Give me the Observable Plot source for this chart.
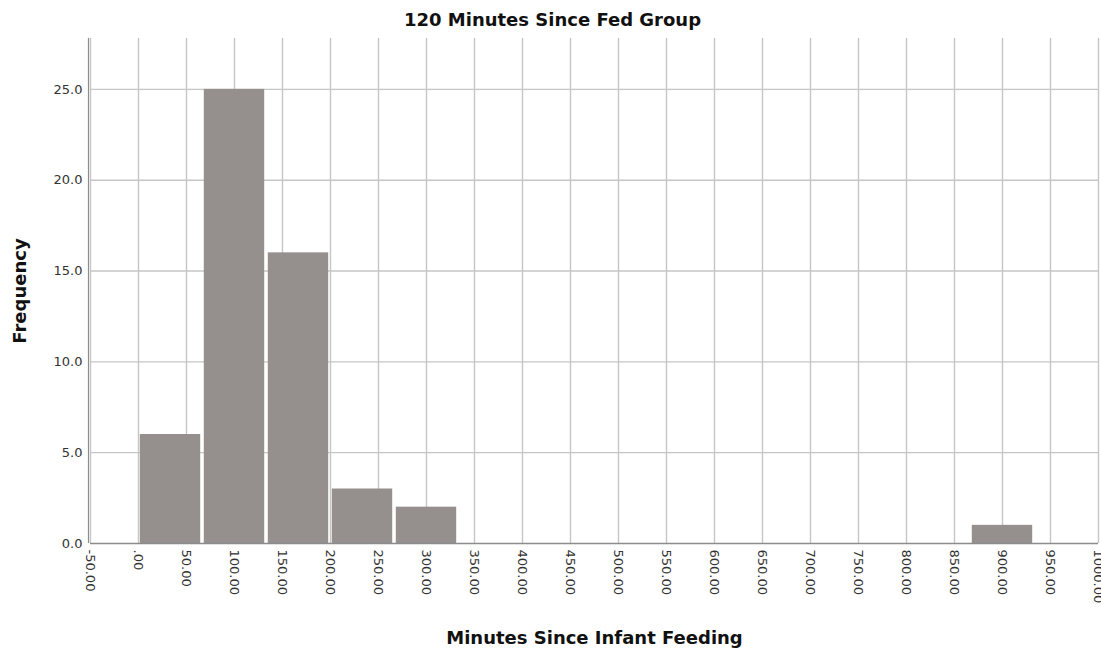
<!DOCTYPE html>
<html>
<head>
<meta charset="utf-8">
<script src="https://cdn.jsdelivr.net/npm/d3@7"></script>
<script src="https://cdn.jsdelivr.net/npm/@observablehq/plot@0.6"></script>
<style>
  html, body { margin: 0; padding: 0; background: #fff; }
  #chart svg { display: block; }
</style>
</head>
<body>
<div id="chart"></div>
<script>
const chartTitle = "120 Minutes Since Fed Group";
const xLabel = "Minutes Since Infant Feeding";
const yLabel = "Frequency";

// Histogram bins (bin width ≈ 66.67 minutes)
const binStart = [0, 66.667, 133.333, 200, 266.667, 866.667];
const binEnd   = [66.667, 133.333, 200, 266.667, 333.333, 933.333];
const counts   = [6, 25, 16, 3, 2, 1];

const xTicks = d3.range(-50, 1001, 50);
const yTicks = [0, 5, 10, 15, 20, 25];

const bins = binStart.map((s, i) => ({x1: s, x2: binEnd[i], y: counts[i]}));

const font = "'DejaVu Sans', 'Open Sans', sans-serif";

const chart = Plot.plot({
  width: 1101,
  height: 653,
  marginLeft: 90,
  marginRight: 3,
  marginTop: 38,
  marginBottom: 110,
  style: {fontFamily: font, fontSize: "13px", color: "#333", background: "#fff"},
  x: {domain: [-50, 1000], ticks: xTicks},
  y: {domain: [0, 27.8], ticks: yTicks},
  marks: [
    Plot.ruleX(xTicks, {stroke: "#c6c6c6", strokeWidth: 1.4}),
    Plot.ruleY(yTicks.filter(d => d > 0), {stroke: "#c6c6c6", strokeWidth: 1.4}),
    Plot.rectY(bins, {x1: "x1", x2: "x2", y: "y", fill: "#958f8e", insetLeft: 1.8, insetRight: 1.8}),
    Plot.ruleY([0], {stroke: "#8c8c8c", strokeWidth: 1.5}),
    Plot.ruleX([-50], {stroke: "#8c8c8c", strokeWidth: 1.2, dx: -2}),
    Plot.axisX(xTicks, {
      tickSize: 0, tickPadding: 6, tickRotate: 90, label: null,
      tickFormat: d => d === 0 ? ".00" : d.toFixed(2),
      fontSize: 13
    }),
    Plot.axisY(yTicks, {
      tickSize: 0, tickPadding: 8, label: null,
      tickFormat: d => d.toFixed(1),
      fontSize: 13
    }),
    Plot.text([chartTitle], {
      text: d => d, frameAnchor: "top", dy: -25, dx: -42,
      fontSize: 18, fontWeight: "bold", fill: "#111"
    }),
    Plot.text([xLabel], {
      text: d => d, frameAnchor: "bottom", dy: 100,
      fontSize: 18, fontWeight: "bold", fill: "#111"
    }),
    Plot.text([yLabel], {
      text: d => d, frameAnchor: "left", textAnchor: "middle", dx: -70, rotate: -90,
      fontSize: 18, fontWeight: "bold", fill: "#111"
    })
  ]
});

document.getElementById("chart").appendChild(chart);
</script>
</body>
</html>
